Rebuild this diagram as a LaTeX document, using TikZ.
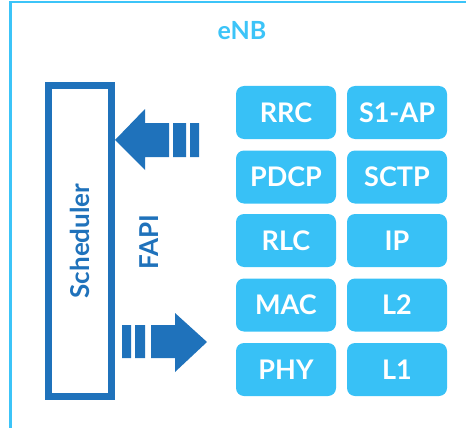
\documentclass[tikz,border=0pt]{standalone}
\usepackage{fontspec}
\setmainfont{Lato}
\definecolor{enbblue}{HTML}{3CC4F8}
\definecolor{layerblue}{HTML}{38C1F6}
\definecolor{fapiblue}{HTML}{1F72BB}

\begin{document}
\begin{tikzpicture}[x=1pt, y=-1pt,
    layer/.style={fill=layerblue, rounded corners=8pt, minimum width=100pt, minimum height=53pt,
      inner sep=0pt, text=white, font=\fontsize{27}{27}\selectfont\bfseries},
    fapitext/.style={text=fapiblue, font=\fontsize{26}{26}\selectfont\bfseries}]
    \useasboundingbox (0,0) rectangle (466,428);
    % eNB frame
    \draw[enbblue, line width=2.5pt] (10.5,440) -- (10.5,2) -- (480,2);
    \node[text=enbblue, font=\fontsize{25}{25}\selectfont\bfseries] (enb) at (242,31) {eNB};
    % scheduler and FAPI
    \node[draw=fapiblue, line width=7pt, minimum width=311pt, minimum height=63pt, rotate=90,
      fapitext, inner sep=0pt] (sched) at (80,241) {Scheduler};
    \node[fapitext, rotate=90] (fapi) at (149,242) {FAPI};
    \fill[fapiblue] (sched.south |- 0,140) -- (145,109) -- (145,123) -- (169,123) -- (169,157)
      -- (145,157) -- (145,170) -- cycle
      (173,123) rectangle (186,157) (190,123) rectangle (199,157);
    \fill[fapiblue] (122,325) rectangle (131,358) (135,325) rectangle (145,358)
      (151,325) -- (175,325) -- (175,313) -- (207,342) -- (175,372) -- (175,358) -- (151,358) -- cycle;
    % protocol stack
    \foreach \name/\y [count=\i] in {RRC/112.5, PDCP/177, RLC/240.5, MAC/305, PHY/369.5}
      \node[layer] (ran\i) at (286,\y) {\name};
    \foreach \name/\y [count=\i] in {S1-AP/112.5, SCTP/177, IP/240.5, L2/305, L1/369.5}
      \node[layer] (core\i) at (397,\y) {\name};
  \end{tikzpicture}
\end{document}
